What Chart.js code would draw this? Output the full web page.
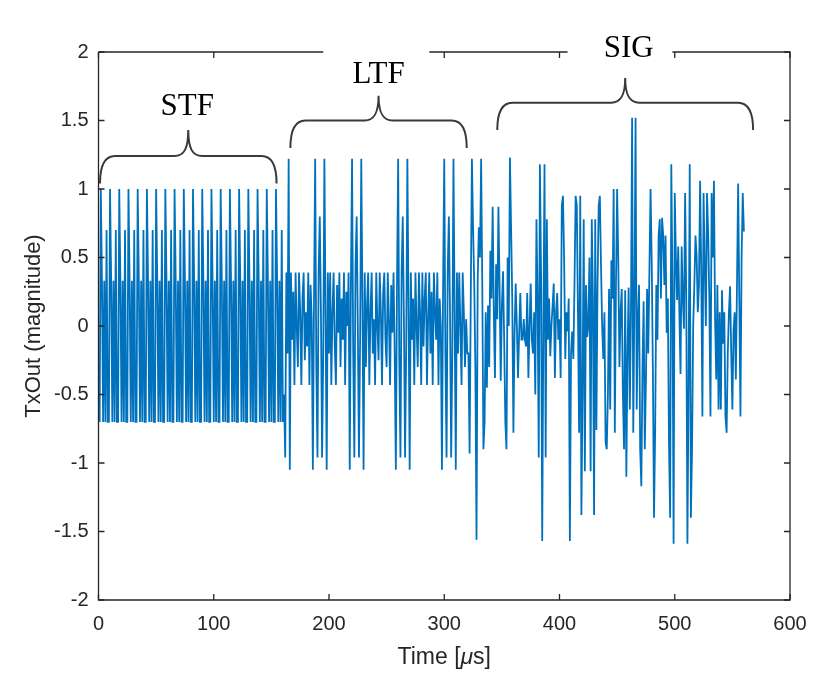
<!DOCTYPE html>
<html>
<head>
<meta charset="utf-8">
<script src="https://cdn.jsdelivr.net/npm/chart.js@4.4.1/dist/chart.umd.min.js"></script>
<style>
  html, body { margin: 0; padding: 0; background: #ffffff; }
  #wrap { width: 830px; height: 680px; }
</style>
</head>
<body>
<div id="wrap"><canvas id="c" width="830" height="680"></canvas></div>
<script>
// ---- data (one sample per time unit, starting at t = 1) ----
const tStart = 1;
const tStep = 1;

// STF section, samples 1..160 (periodic, 20 repeats)
const stf = [
  -0.7, 1.0, 0.33, -0.7, 0.33, -0.7, 0.7, -0.7,
  -0.7, 1.0, 0.33, -0.7, 0.33, -0.7, 0.7, -0.7,
  -0.7, 1.0, 0.33, -0.7, 0.33, -0.7, 0.7, -0.7,
  -0.7, 1.0, 0.33, -0.7, 0.33, -0.7, 0.7, -0.7,
  -0.7, 1.0, 0.33, -0.7, 0.33, -0.7, 0.7, -0.7,
  -0.7, 1.0, 0.33, -0.7, 0.33, -0.7, 0.7, -0.7,
  -0.7, 1.0, 0.33, -0.7, 0.33, -0.7, 0.7, -0.7,
  -0.7, 1.0, 0.33, -0.7, 0.33, -0.7, 0.7, -0.7,
  -0.7, 1.0, 0.33, -0.7, 0.33, -0.7, 0.7, -0.7,
  -0.7, 1.0, 0.33, -0.7, 0.33, -0.7, 0.7, -0.7,
  -0.7, 1.0, 0.33, -0.7, 0.33, -0.7, 0.7, -0.7,
  -0.7, 1.0, 0.33, -0.7, 0.33, -0.7, 0.7, -0.7,
  -0.7, 1.0, 0.33, -0.7, 0.33, -0.7, 0.7, -0.7,
  -0.7, 1.0, 0.33, -0.7, 0.33, -0.7, 0.7, -0.7,
  -0.7, 1.0, 0.33, -0.7, 0.33, -0.7, 0.7, -0.7,
  -0.7, 1.0, 0.33, -0.7, 0.33, -0.7, 0.7, -0.7,
  -0.7, 1.0, 0.33, -0.7, 0.33, -0.7, 0.7, -0.7,
  -0.7, 1.0, 0.33, -0.7, 0.33, -0.7, 0.7, -0.7,
  -0.7, 1.0, 0.33, -0.7, 0.33, -0.7, 0.7, -0.7,
  -0.7, 1.0, 0.33, -0.7, 0.33, -0.7, 0.7, -0.7
];

// LTF section, samples 161..320
const ltf = [
  -0.5, -0.96, 0.39, -0.2, 1.22, -1.05, 0.39, -0.1, 0.25, -0.43,
  0.39, 0.0, -0.3, 0.39, 0.1, -0.43, 0.2, 0.39, -0.25, 0.1,
  -0.15, 0.39, -0.43, 0.3, 0.05, -1.05, 0.2, 1.22, -0.3, -0.96,
  0.4, 0.8, 0.1, -0.96, -0.2, 1.22, 0.1, -1.05, 0.39, -0.2,
  0.39, -0.43, 0.1, 0.39, -0.15, -0.43, 0.3, -0.05, 0.39, -0.3,
  0.2, -0.1, 0.39, -0.43, 0.25, 0.0, 0.39, -1.05, 0.3, 1.22,
  -0.2, -0.96, 0.45, 0.8, 0.0, -0.96, -0.1, 1.22, 0.2, -1.05,
  0.39, -0.3, 0.15, 0.39, -0.43, 0.1, 0.39, -0.2, 0.05, -0.43,
  0.39, 0.0, -0.25, 0.39, 0.1, -0.43, 0.25, 0.39, -0.1, -0.3,
  0.39, 0.05, -0.43, 0.3, -0.05, 0.39, -0.2, -1.05, 0.3, 1.22,
  -0.25, -0.96, 0.4, 0.8, 0.05, -0.96, -0.15, 1.22, 0.15, -1.05,
  0.39, -0.1, 0.2, -0.43, 0.39, 0.0, -0.3, 0.39, 0.1, -0.43,
  0.39, -0.15, 0.2, 0.39, -0.43, 0.05, 0.39, -0.2, 0.25, -0.43,
  0.39, 0.1, -0.1, 0.39, -0.43, 0.2, 0.0, -1.05, 0.3, 1.22,
  -0.2, -0.96, 0.4, 0.8, 0.1, -0.96, -0.2, 1.22, 0.1, -1.05,
  0.39, -0.2, 0.39, 0.0, -0.43, 0.39, 0.1, -0.3, 0.05, -0.2
];

// SIG / data section, samples 321..560
const sig = [
  -0.2, -0.93, 0.2, 1.22, 0.72, 0.32, -0.3, -1.56, 0.32, 0.72, 0.5, 1.22, 0.3, -0.9,
  -0.7, 0.1, -0.45, 0.15, -0.3, 0.55, 0.2, 0.87, 0.1, -0.38,
  0.45, 0.05, 0.87, 0.3, -0.4, 0.15, 0.4, -0.1, -0.7, -0.9,
  0.5, 0.0, 1.23, 0.72, 0.2, -0.78, -0.05, 0.31, 0.0, -0.38,
  -0.05, 0.24, -0.1, -0.1, 0.05, -0.1, -0.15, 0.24, -0.38, 0.0,
  0.31, -0.1, -0.2, 0.1, -0.5, 0.78, 0.2, -0.96, 1.18, 0.4,
  -1.57, 0.0, 1.18, -0.96, 0.78, -0.1, 0.2, -0.22, 0.0, 0.15,
  0.31, -0.38, 0.1, 0.24, -0.1, 0.05, -0.38, 0.88, 0.95, 0.5,
  -0.24, 0.1, -0.04, 0.2, -1.57, -0.2, -0.04, -0.24, 0.3, 0.95,
  0.88, 0.1, -0.78, 0.95, -1.38, -0.5, 0.78, -1.06, 0.3, -0.08,
  0.0, 0.5, -1.06, 0.78, 0.2, -1.38, 0.78, -0.76, 0.3, 0.88,
  0.95, 0.45, 0.0, -0.24, 0.1, -0.85, -0.9, -0.5, 0.27, -0.61,
  0.48, 0.2, 1.0, -0.78, 0.3, 1.0, 0.48, -0.3, 0.1, 0.27,
  -0.5, -0.9, 0.26, -1.1, -0.2, 0.28, -0.61, 0.1, 1.52, -0.78,
  0.2, 1.52, -0.61, 0.05, 0.3, -0.9, -1.17, -0.3, 0.18, -0.9,
  -0.4, 0.27, -0.2, 0.4, 1.0, 0.48, -0.3, -1.4, -0.76, 0.3,
  -0.1, 0.66, 0.78, 0.2, 0.79, 0.66, 0.3, 0.66, -0.05, 0.2,
  -0.85, -1.4, 1.18, 0.3, -1.59, 0.97, 0.5, 0.19, 0.58, 0.1,
  -0.35, 0.58, 0.2, -0.02, 0.97, 0.2, -1.59, -0.4, 1.18, -1.4,
  -0.9, 0.0, 0.3, 0.66, 0.51, 0.1, 0.3, 1.06, 0.4, -0.66,
  0.97, 0.45, 0.0, 0.97, 0.68, 0.2, -0.66, 0.97, 0.5, 1.06,
  0.05, -0.39, 0.3, -0.61, 0.1, -0.61, 0.26, -0.13, 0.1, -0.66,
  -0.78, -0.2, 0.1, 0.29, -0.2, -0.61, -0.03, 0.1, -0.39, 0.3,
  1.04, 0.2, -0.66, 0.5, 0.97, 0.69
];

const xTicks = [0, 100, 200, 300, 400, 500, 600];
const yTicks = [-2, -1.5, -1, -0.5, 0, 0.5, 1, 1.5, 2];

// section labels of the annotation braces
const sections = ['STF', 'LTF', 'SIG'];

// ---- build table for Chart.js ----
const values = stf.concat(ltf, sig);
const points = values.map((v, i) => ({ x: tStart + i * tStep, y: v }));

const AXIS_COLOR = '#262626';
const SANS = '"Liberation Sans", Arial, Helvetica, sans-serif';
const SERIF = '"Liberation Serif", "Times New Roman", serif';

const framePlugin = {
  id: 'frame',
  afterDatasetsDraw(chart) {
    const ctx = chart.ctx;
    const a = chart.chartArea;
    const xs = chart.scales.x, ys = chart.scales.y;
    ctx.save();
    ctx.strokeStyle = AXIS_COLOR;
    ctx.lineWidth = 1.3;
    ctx.lineCap = 'butt';
    // frame
    ctx.beginPath();
    ctx.moveTo(a.left, a.top); ctx.lineTo(a.left, a.bottom);
    ctx.lineTo(a.right, a.bottom); ctx.lineTo(a.right, a.top);
    ctx.lineTo(a.left, a.top);
    ctx.stroke();
    // inward ticks
    const tl = 6;
    ctx.beginPath();
    xTicks.forEach(v => {
      const px = xs.getPixelForValue(v);
      ctx.moveTo(px, a.bottom); ctx.lineTo(px, a.bottom - tl);
      ctx.moveTo(px, a.top); ctx.lineTo(px, a.top + tl);
    });
    yTicks.forEach(v => {
      const py = ys.getPixelForValue(v);
      ctx.moveTo(a.left, py); ctx.lineTo(a.left + tl, py);
      ctx.moveTo(a.right, py); ctx.lineTo(a.right - tl, py);
    });
    ctx.stroke();

    // text boxes of LTF and SIG hide part of the top edge
    ctx.fillStyle = '#ffffff';
    ctx.fillRect(xs.getPixelForValue(195), a.top - 8, xs.getPixelForValue(287) - xs.getPixelForValue(195), 16);
    ctx.fillRect(xs.getPixelForValue(407), a.top - 8, xs.getPixelForValue(498) - xs.getPixelForValue(407), 16);

    // braces
    function brace(x1, x2, yEnd, yMid, yTip) {
      const xm = (x1 + x2) / 2;
      const r = 15;
      ctx.beginPath();
      ctx.moveTo(x1, yEnd);
      ctx.quadraticCurveTo(x1, yMid, x1 + r, yMid);
      ctx.lineTo(xm - 14, yMid);
      ctx.bezierCurveTo(xm - 4, yMid, xm, yMid - 8, xm, yTip);
      ctx.bezierCurveTo(xm, yMid - 8, xm + 4, yMid, xm + 14, yMid);
      ctx.lineTo(x2 - r, yMid);
      ctx.quadraticCurveTo(x2, yMid, x2, yEnd);
      ctx.stroke();
    }
    ctx.strokeStyle = '#3a3a3a';
    ctx.lineWidth = 2;
    brace(xs.getPixelForValue(1.3), xs.getPixelForValue(154.5), ys.getPixelForValue(1.04), ys.getPixelForValue(1.24), ys.getPixelForValue(1.43));
    brace(xs.getPixelForValue(166.5), xs.getPixelForValue(319.5), ys.getPixelForValue(1.30), ys.getPixelForValue(1.50), ys.getPixelForValue(1.68));
    brace(xs.getPixelForValue(346), xs.getPixelForValue(568), ys.getPixelForValue(1.43), ys.getPixelForValue(1.63), ys.getPixelForValue(1.81));

    // section labels
    ctx.fillStyle = '#000000';
    ctx.font = '31px ' + SERIF;
    ctx.textAlign = 'center';
    ctx.textBaseline = 'alphabetic';
    ctx.fillText(sections[0], xs.getPixelForValue(77), ys.getPixelForValue(1.543));
    ctx.fillText(sections[1], xs.getPixelForValue(243), ys.getPixelForValue(1.777));
    ctx.fillText(sections[2], xs.getPixelForValue(460), ys.getPixelForValue(1.967));

    // axis titles
    ctx.fillStyle = AXIS_COLOR;
    ctx.textBaseline = 'alphabetic';
    const tfont = '23px ' + SANS;
    const ifont = 'italic 23px ' + SANS;
    const parts = [['Time [', tfont], ['\u03BC', ifont], ['s]', tfont]];
    let total = 0;
    parts.forEach(p => { ctx.font = p[1]; total += ctx.measureText(p[0]).width; });
    let cx = (a.left + a.right) / 2 - total / 2;
    ctx.textAlign = 'left';
    parts.forEach(p => { ctx.font = p[1]; ctx.fillText(p[0], cx, 664); cx += ctx.measureText(p[0]).width; });

    ctx.save();
    ctx.translate(40, (a.top + a.bottom) / 2);
    ctx.rotate(-Math.PI / 2);
    ctx.font = '22px ' + SANS;
    ctx.textAlign = 'center';
    ctx.fillText('TxOut (magnitude)', 0, 0);
    ctx.restore();

    ctx.restore();
  }
};

new Chart(document.getElementById('c'), {
  type: 'line',
  data: {
    datasets: [{
      data: points,
      borderColor: '#0072BD',
      borderWidth: 1.8,
      pointRadius: 0,
      tension: 0,
      fill: false
    }]
  },
  options: {
    responsive: false,
    animation: false,
    layout: { padding: { left: 0, right: 40, top: 52, bottom: 0 } },
    plugins: { legend: { display: false }, tooltip: { enabled: false }, title: { display: false } },
    scales: {
      x: {
        type: 'linear', min: 0, max: 600,
        afterBuildTicks: s => { s.ticks = xTicks.map(v => ({ value: v })); },
        ticks: { color: AXIS_COLOR, font: { family: SANS, size: 20 }, padding: 12, maxRotation: 0, autoSkip: false, callback: v => String(v) },
        grid: { display: false, drawTicks: false },
        border: { display: false },
        afterFit: s => { s.height = 80; }
      },
      y: {
        type: 'linear', min: -2, max: 2,
        afterBuildTicks: s => { s.ticks = yTicks.map(v => ({ value: v })); },
        ticks: { color: AXIS_COLOR, font: { family: SANS, size: 20 }, padding: 10, autoSkip: false, callback: v => String(v) },
        grid: { display: false, drawTicks: false },
        border: { display: false },
        afterFit: s => { s.width = 98.5; }
      }
    }
  },
  plugins: [framePlugin]
});
</script>
</body>
</html>
